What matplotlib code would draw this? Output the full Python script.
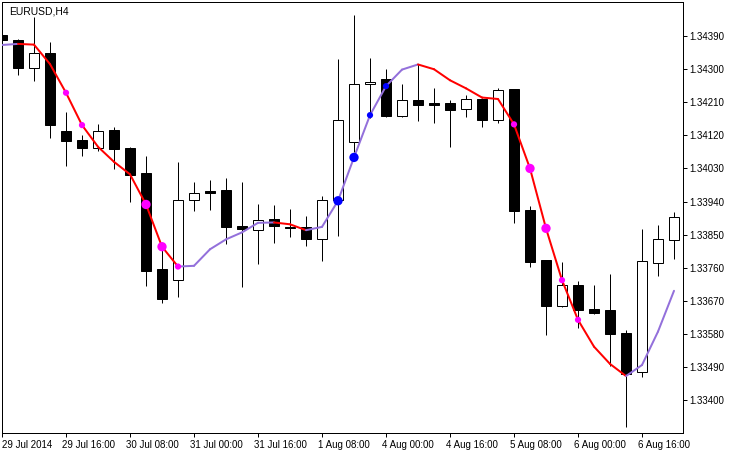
import numpy as np
import matplotlib
matplotlib.use("Agg")
import matplotlib.pyplot as plt
from matplotlib.collections import LineCollection
from matplotlib.transforms import ScaledTranslation

# EURUSD H4 bars, 29 Jul 2014 00:00 onwards
opens = [1.34393, 1.34379, 1.34304, 1.34344, 1.34132, 1.34107, 1.34086, 1.34134,
         1.34085, 1.34017, 1.33756, 1.33726, 1.33943, 1.33968, 1.33971, 1.33873,
         1.33863, 1.33892, 1.33872, 1.33872, 1.33839, 1.33943, 1.34101, 1.34259,
         1.34273, 1.34173, 1.34216, 1.34208, 1.34208, 1.34193, 1.34219, 1.34162,
         1.34246, 1.33917, 1.33781, 1.33655, 1.33712, 1.33647, 1.33645, 1.33582,
         1.33475, 1.33774, 1.33834]
highs = [1.34395, 1.34382, 1.34442, 1.34374, 1.34183, 1.34121, 1.34151, 1.34143,
         1.34088, 1.34064, 1.33816, 1.34047, 1.33993, 1.33998, 1.34004, 1.33993,
         1.33933, 1.33930, 1.33919, 1.33900, 1.33955, 1.34327, 1.34447, 1.34330,
         1.34300, 1.34259, 1.34313, 1.34249, 1.34216, 1.34230, 1.34221, 1.34248,
         1.34246, 1.33928, 1.33781, 1.33775, 1.33724, 1.33713, 1.33743, 1.33590,
         1.33865, 1.33876, 1.33911]
lows = [1.34376, 1.34284, 1.34268, 1.34113, 1.34037, 1.34064, 1.34078, 1.34029,
        1.33939, 1.33711, 1.33663, 1.33681, 1.33915, 1.33917, 1.33824, 1.33708,
        1.33770, 1.33828, 1.33844, 1.33819, 1.33779, 1.33846, 1.34075, 1.34167,
        1.34170, 1.34170, 1.34160, 1.34154, 1.34089, 1.34171, 1.34143, 1.34154,
        1.33882, 1.33763, 1.33577, 1.33653, 1.33597, 1.33635, 1.33491, 1.33325,
        1.33463, 1.33738, 1.33784]
closes = [1.34379, 1.34304, 1.34344, 1.34148, 1.34105, 1.34086, 1.34132, 1.34083,
          1.34013, 1.33752, 1.33674, 1.33943, 1.33962, 1.33964, 1.33871, 1.33864,
          1.33891, 1.33874, 1.33868, 1.33839, 1.33943, 1.34161, 1.34259, 1.34265,
          1.34172, 1.34216, 1.34203, 1.34203, 1.34190, 1.34219, 1.34162, 1.34243,
          1.33915, 1.33776, 1.33656, 1.33712, 1.33646, 1.33637, 1.33580, 1.33471,
          1.33777, 1.33837, 1.33897]

# smoothed average drawn over the candles
ma = [1.34366, 1.34369, 1.34367, 1.34314, 1.34236, 1.34148, 1.34089, 1.34048,
      1.34014, 1.33932, 1.33817, 1.33763, 1.33765, 1.33810, 1.33837, 1.33856,
      1.33882, 1.33883, 1.33878, 1.33862, 1.33871, 1.33942, 1.34060, 1.34175,
      1.34254, 1.34299, 1.34313, 1.34300, 1.34270, 1.34248, 1.34223, 1.34219,
      1.34150, 1.34030, 1.33867, 1.33726, 1.33618, 1.33545, 1.33498, 1.33465,
      1.33495, 1.33586, 1.33697]

# signal dots on the average
sig_bars = [4, 5, 9, 10, 11, 21, 22, 23, 24, 32, 33, 34, 35, 36]
sig_colors = ["#FF00FF", "#FF00FF", "#FF00FF", "#FF00FF", "#FF00FF",
              "#0000FF", "#0000FF", "#0000FF", "#0000FF",
              "#FF00FF", "#FF00FF", "#FF00FF", "#FF00FF", "#FF00FF"]
sig_big = [False, False, True, True, False,
           True, True, False, False,
           False, True, True, False, False]

x_tick_bars = [0, 4, 8, 12, 16, 20, 24, 28, 32, 36, 40]
x_tick_labels = ["29 Jul 2014", "29 Jul 16:00", "30 Jul 08:00", "31 Jul 00:00",
                 "31 Jul 16:00", "1 Aug 08:00", "4 Aug 00:00", "4 Aug 16:00",
                 "5 Aug 08:00", "6 Aug 00:00", "6 Aug 16:00"]
y_ticks = [1.33400, 1.33490, 1.33580, 1.33670, 1.33760, 1.33850, 1.33940,
           1.34030, 1.34120, 1.34210, 1.34300, 1.34390]

plt.rcParams["font.family"] = ["Liberation Sans", "DejaVu Sans"]
px = 0.72  # one pixel in points at dpi 100

fig = plt.figure(figsize=(7.35, 4.53), dpi=100)
ax = fig.add_axes([2 / 735, 20 / 453, 681 / 735, 431 / 453])

x = np.arange(len(opens))
o = np.array(opens)
c = np.array(closes)
h = np.array(highs)
l = np.array(lows)

# wicks
ax.vlines(x, l, h, color="black", linewidth=px, zorder=2)
# bodies
bottoms = np.minimum(o, c)
heights = np.abs(c - o)
face = ["black" if cc < oo else "white" for oo, cc in zip(o, c)]
ax.bar(x, heights, width=0.625, bottom=bottoms, color=face,
       edgecolor="black", linewidth=px, zorder=3)

# colour-changing average: red when falling, purple when rising
m = np.array(ma)
segs = [[(x[i - 1], m[i - 1]), (x[i], m[i])] for i in range(1, len(m))]
seg_col = ["#9370DB" if m[i] >= m[i - 1] else "#FF0000" for i in range(1, len(m))]
lc = LineCollection(segs, colors=seg_col, linewidths=2 * px, zorder=4,
                    capstyle="round")
ax.add_collection(lc)

sizes = [45 if b else 20 for b in sig_big]
ax.scatter(x[sig_bars], m[sig_bars], s=sizes, c=sig_colors, linewidths=0,
           zorder=5)

ax.set_xlim(0, 681 / 16)
ax.set_ylim(1.33310, 1.34483)

ax.yaxis.tick_right()
ax.set_yticks(y_ticks)
ax.set_yticklabels([f"{v:.5f}" for v in y_ticks])
ax.set_xticks(x_tick_bars)
ax.set_xticklabels(x_tick_labels)
ax.tick_params(axis="both", direction="out", length=4 * px, width=px,
               labelsize=7, colors="black", pad=2)
for i, lab in enumerate(ax.get_xticklabels()):
    lab.set_ha("left")
    if i > 0:
        lab.set_transform(lab.get_transform() +
                          ScaledTranslation(-4 / 100, 0, fig.dpi_scale_trans))

for sp in ax.spines.values():
    sp.set_linewidth(px)
    sp.set_color("black")

ax.text(7 / 681, 1 - 9 / 431, "EURUSD,H4", transform=ax.transAxes,
        fontsize=7.5, va="center", ha="left")

fig.savefig("out.png", dpi=100)
